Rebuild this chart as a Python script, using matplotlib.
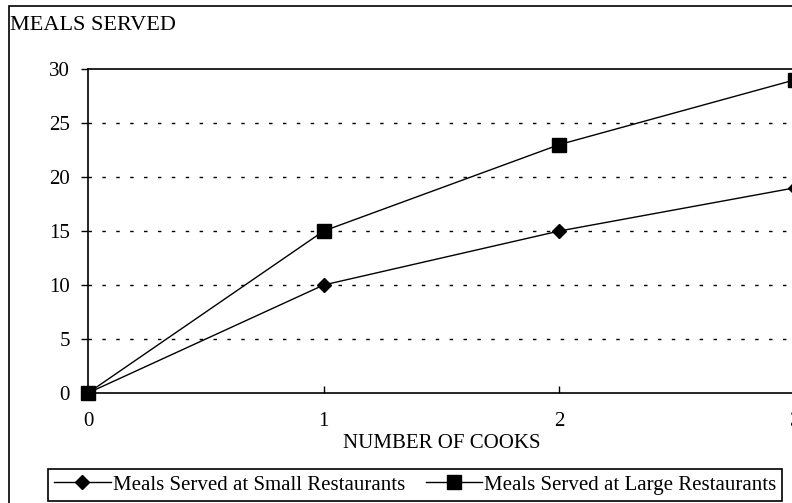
import matplotlib
matplotlib.use("Agg")
import matplotlib.pyplot as plt
from matplotlib.patches import Rectangle

cooks = [0, 1, 2, 3]
small = [0, 10, 15, 19]
large = [0, 15, 23, 29]
yticks = [0, 5, 10, 15, 20, 25, 30]
xticks = [0, 1, 2, 3]

plt.rcParams['font.family'] = ['Liberation Serif', 'DejaVu Serif']
FS = 15

W, H = 792, 503
fig = plt.figure(figsize=(W/100, H/100), dpi=100)

# outer border
fig.patches.append(Rectangle((9/W, -20/H), 900/W, (H-6+20)/H, transform=fig.transFigure,
                             fill=False, edgecolor='black', linewidth=1.2, zorder=0))

left, right, top, bottom = 88, 795, 69, 393
ax = fig.add_axes([left/W, 1-bottom/H, (right-left)/W, (bottom-top)/H])
ax.set_xlim(0, 3)
ax.set_ylim(0, 30)

for y in yticks[1:-1]:
    ax.axhline(y, color='black', linewidth=1.0, linestyle=(0, (2.5, 7.5)), zorder=1)

ax.plot(cooks, small, color='black', linewidth=1.0, marker='D', markersize=7,
        label='Meals Served at Small Restaurants', zorder=3, clip_on=False)
ax.plot(cooks, large, color='black', linewidth=1.0, marker='s', markersize=10,
        label='Meals Served at Large Restaurants', zorder=3, clip_on=False)

ax.set_xticks(xticks)
ax.set_yticks(yticks)
ax.tick_params(axis='x', direction='in', length=5, pad=14, labelsize=FS, width=1)
ax.tick_params(axis='y', direction='out', length=5, pad=8, labelsize=FS, width=1)
ax.set_xlabel('NUMBER OF COOKS', fontsize=FS, labelpad=2)
for s in ax.spines.values():
    s.set_linewidth(1.2)

fig.text(10/W, 1-25/H, 'MEALS SERVED', fontsize=FS+1, ha='left', va='center')

leg = fig.legend(loc='lower left', bbox_to_anchor=(48/W, 2/H), ncol=2, fontsize=FS,
                 frameon=True, fancybox=False, edgecolor='black', framealpha=1,
                 handlelength=2.7, handletextpad=0.1, columnspacing=1.0,
                 borderpad=0.3, borderaxespad=0)
leg.get_frame().set_linewidth(1.2)

fig.savefig('out.png', dpi=100)
